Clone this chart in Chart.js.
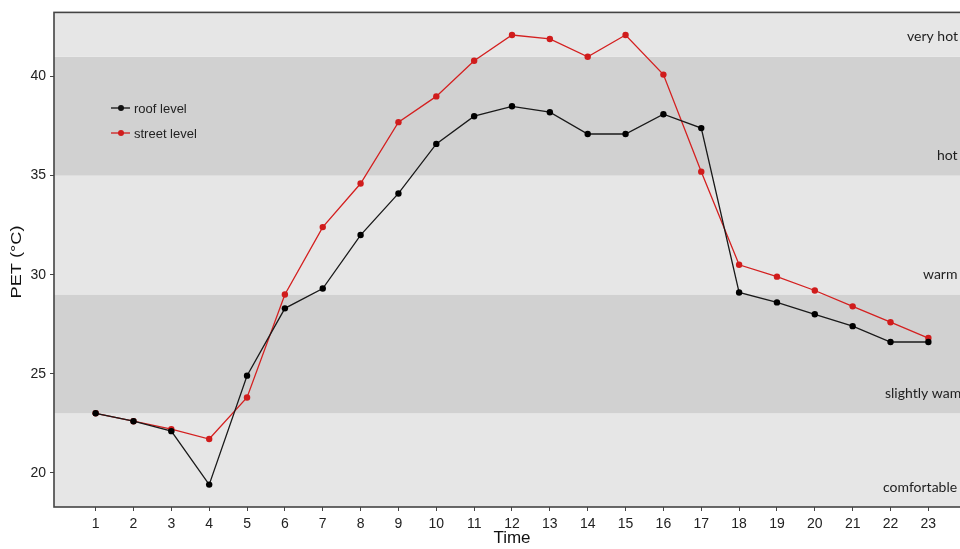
<!DOCTYPE html>
<html>
<head>
<meta charset="utf-8">
<script src="https://cdn.jsdelivr.net/npm/chart.js@4.4.1/dist/chart.umd.min.js"></script>
<style>
  html, body { margin: 0; padding: 0; background: #fff; overflow: hidden; }
  #wrap { width: 974px; height: 549px; position: relative; }
</style>
</head>
<body>
<div id="wrap"><canvas id="chart"></canvas></div>
<script>
// DATA
const hours = [1, 2, 3, 4, 5, 6, 7, 8, 9, 10, 11, 12, 13, 14, 15, 16, 17, 18, 19, 20, 21, 22, 23];
const roofLevel = [23.0, 22.6, 22.1, 19.4, 24.9, 28.3, 29.3, 32.0, 34.1, 36.6, 38.0, 38.5, 38.2, 37.1, 37.1, 38.1, 37.4, 29.1, 28.6, 28.0, 27.4, 26.6, 26.6];
const streetLevel = [23.0, 22.6, 22.2, 21.7, 23.8, 29.0, 32.4, 34.6, 37.7, 39.0, 40.8, 42.1, 41.9, 41.0, 42.1, 40.1, 35.2, 30.5, 29.9, 29.2, 28.4, 27.6, 26.8];
const yTicks = [20, 25, 30, 35, 40];
const bandLabels = ['comfortable', 'slightly wam', 'warm', 'hot', 'very hot'];
const bandLimits = [0, 23, 29, 35, 41, 60];
const seriesNames = ['roof level', 'street level'];

// BANDS + FRAME + LEGEND
const backdrop = {
    id: 'backdrop',
    beforeDatasetsDraw(chart) {
        const { ctx, chartArea: a, scales: { y } } = chart;
        ctx.save();
        ctx.beginPath();
        ctx.rect(a.left, a.top, a.right - a.left, a.bottom - a.top);
        ctx.clip();
        for (let i = 0; i < bandLabels.length; i++) {
            const top = y.getPixelForValue(bandLimits[i + 1]);
            const bottom = y.getPixelForValue(bandLimits[i]);
            ctx.fillStyle = i % 2 === 0 ? '#e6e6e6' : '#d1d1d1';
            ctx.fillRect(a.left, top, a.right - a.left, bottom - top);
        }
        ctx.restore();

        // band names, about one unit above the lower edge of each band
        const labelX = [883, 885, 923, 937, 907];
        ctx.save();
        ctx.fillStyle = '#1e1e1e';
        ctx.font = '14px Lato, "Open Sans", sans-serif';
        ctx.textBaseline = 'middle';
        ctx.textAlign = 'left';
        for (let i = 0; i < bandLabels.length; i++) {
            const low = Math.max(bandLimits[i], y.min);
            ctx.fillText(bandLabels[i], labelX[i], y.getPixelForValue(low + 1.0));
        }
        ctx.restore();
    },
    afterDatasetsDraw(chart) {
        const { ctx, chartArea: a } = chart;
        ctx.save();
        ctx.strokeStyle = '#444';
        ctx.lineWidth = 1.6;
        ctx.strokeRect(a.left, a.top, a.right - a.left, a.bottom - a.top);

        // legend
        const colors = ['#111', '#d01c1c'];
        ctx.font = '13px "Liberation Sans", Arial, sans-serif';
        ctx.textBaseline = 'middle';
        seriesNames.forEach((name, i) => {
            const ly = 108 + i * 25;
            ctx.strokeStyle = colors[i];
            ctx.fillStyle = colors[i];
            ctx.lineWidth = 1.3;
            ctx.beginPath();
            ctx.moveTo(111, ly);
            ctx.lineTo(130, ly);
            ctx.stroke();
            ctx.beginPath();
            ctx.arc(121, ly, 3, 0, Math.PI * 2);
            ctx.fill();
            ctx.fillStyle = '#222';
            ctx.fillText(name, 134, ly + 1);
        });

        // y axis title (source picture is stretched vertically)
        ctx.translate(17, 262);
        ctx.rotate(-Math.PI / 2);
        ctx.scale(1.3, 1);
        ctx.fillStyle = '#111';
        ctx.font = '14px "Liberation Sans", Arial, sans-serif';
        ctx.textAlign = 'center';
        ctx.textBaseline = 'middle';
        ctx.fillText('PET (°C)', 0, 0);
        ctx.restore();
    }
};

const ctx = document.getElementById('chart').getContext('2d');
new Chart(ctx, {
    type: 'line',
    data: {
        datasets: [
            {
                label: seriesNames[0],
                data: hours.map((h, i) => ({ x: h, y: roofLevel[i] })),
                borderColor: '#1a1a1a',
                backgroundColor: '#000',
                borderWidth: 1.3,
                pointRadius: 3.2,
                pointBorderWidth: 0,
                tension: 0
            },
            {
                label: seriesNames[1],
                data: hours.map((h, i) => ({ x: h, y: streetLevel[i] })),
                borderColor: '#d42020',
                backgroundColor: '#d01c1c',
                borderWidth: 1.3,
                pointRadius: 3.2,
                pointBorderWidth: 0,
                tension: 0
            }
        ]
    },
    options: {
        responsive: true,
        maintainAspectRatio: false,
        animation: false,
        layout: { padding: { top: 12, right: 0, left: 0, bottom: 0 } },
        plugins: {
            legend: { display: false },
            tooltip: { enabled: false }
        },
        scales: {
            x: {
                type: 'linear',
                min: -0.1,
                max: 24.1,
                afterBuildTicks: (scale) => { scale.ticks = hours.map(v => ({ value: v })); },
                afterFit: (scale) => { scale.height = 42; },
                grid: { drawOnChartArea: false, drawTicks: true, tickLength: 4, color: '#444' },
                border: { display: false },
                ticks: {
                    color: '#222',
                    padding: 5,
                    maxRotation: 0,
                    autoSkip: false,
                    font: { family: '"Liberation Sans", Arial, sans-serif', size: 14 }
                },
                title: {
                    display: true,
                    text: 'Time',
                    color: '#111',
                    padding: { top: 0, bottom: 0 },
                    font: { family: '"Liberation Sans", Arial, sans-serif', size: 17 }
                }
            },
            y: {
                min: 18.27,
                max: 43.24,
                afterBuildTicks: (scale) => { scale.ticks = yTicks.map(v => ({ value: v })); },
                afterFit: (scale) => { scale.width = 54; },
                grid: { drawOnChartArea: false, drawTicks: true, tickLength: 4, color: '#444' },
                border: { display: false },
                ticks: {
                    color: '#222',
                    padding: 4,
                    font: { family: '"Liberation Sans", Arial, sans-serif', size: 14 }
                }
            }
        }
    },
    plugins: [backdrop]
});
</script>
</body>
</html>
